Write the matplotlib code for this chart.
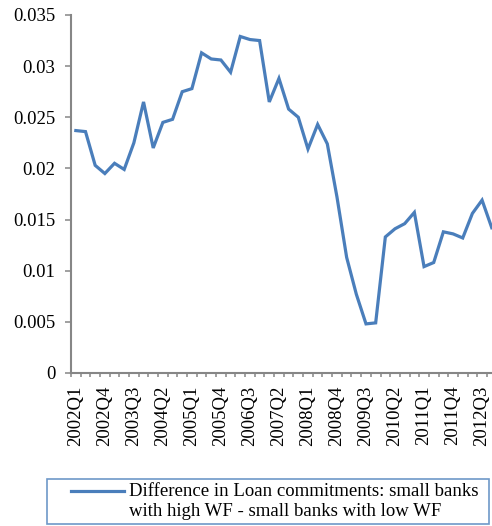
import numpy as np
import matplotlib
matplotlib.use("Agg")
import matplotlib.pyplot as plt

plt.rcParams['font.family'] = ['Liberation Serif', 'DejaVu Serif']

# quarterly series, 2002Q1 .. 2012Q4
years = list(range(2002, 2013))
quarters = [f"{y}Q{q}" for y in years for q in range(1, 5)]
diff_commitments = [
    0.0237, 0.0236, 0.0203, 0.0195,
    0.0205, 0.0199, 0.0225, 0.0265,
    0.0220, 0.0245, 0.0248, 0.0275,
    0.0278, 0.0313, 0.0307, 0.0306,
    0.0294, 0.0329, 0.0326, 0.0325,
    0.0265, 0.0288, 0.0258, 0.0250,
    0.0219, 0.0243, 0.0224, 0.0172,
    0.0113, 0.0077, 0.0048, 0.0049,
    0.0133, 0.0141, 0.0146, 0.0157,
    0.0104, 0.0108, 0.0138, 0.0136,
    0.0132, 0.0156, 0.0169, 0.0142,
]
yticks = [0, 0.005, 0.01, 0.015, 0.02, 0.025, 0.03, 0.035]
ytick_labels = ["0", "0.005", "0.01", "0.015", "0.02", "0.025", "0.03", "0.035"]
series_label = ("Difference in Loan commitments: small banks\n"
                "with high WF - small banks with low WF")

line_color = "#4a7ebb"
axis_color = "#868686"
fs = 13.5

fig = plt.figure(figsize=(4.92, 5.26), dpi=100)
ax = fig.add_axes([0.1443, 0.2909, 0.8650, 0.6806])

x = np.arange(len(quarters))
ax.plot(x, diff_commitments, color=line_color, linewidth=2.3,
        solid_joinstyle="miter", label=series_label)

ax.set_xlim(-0.5, len(quarters) - 0.5)
ax.set_ylim(0, 0.035)

# category labels every third quarter, tick marks between categories
ax.set_xticks(x[::3])
ax.set_xticklabels(quarters[::3], rotation=90, fontsize=fs)
ax.set_xticks(np.arange(-0.5, len(quarters)), minor=True)
ax.tick_params(axis="x", which="major", length=0, pad=9)
ax.tick_params(axis="x", which="minor", length=3, width=1.1,
               color=axis_color, direction="out")

ax.set_yticks(yticks)
ax.set_yticklabels(ytick_labels, fontsize=fs)
ax.tick_params(axis="y", length=4.3, width=1.1, color=axis_color,
               direction="out", pad=7)

for side in ("top", "right"):
    ax.spines[side].set_visible(False)
for side in ("left", "bottom"):
    ax.spines[side].set_color(axis_color)
    ax.spines[side].set_linewidth(1.5)

# legend box spanning the lower part of the figure
leg = fig.legend(loc="upper left",
                 bbox_to_anchor=(47 / 492, 1 - 479 / 526, 442 / 492, 0.0),
                 mode="expand", fontsize=fs, frameon=True, fancybox=False,
                 handlelength=3.9, handletextpad=0.27,
                 borderpad=0.22, borderaxespad=0)
leg.get_frame().set_edgecolor(line_color)
leg.get_frame().set_linewidth(1.2)
leg.get_texts()[0].set_linespacing(1.2)
# sample line sits next to the first text line
handle = leg.legend_handles[0]
y0 = np.asarray(handle.get_ydata(), dtype=float)[0] + 7.2
handle.set_data([14.6, 52.6], [y0, y0])

fig.savefig("out.png", dpi=100)
